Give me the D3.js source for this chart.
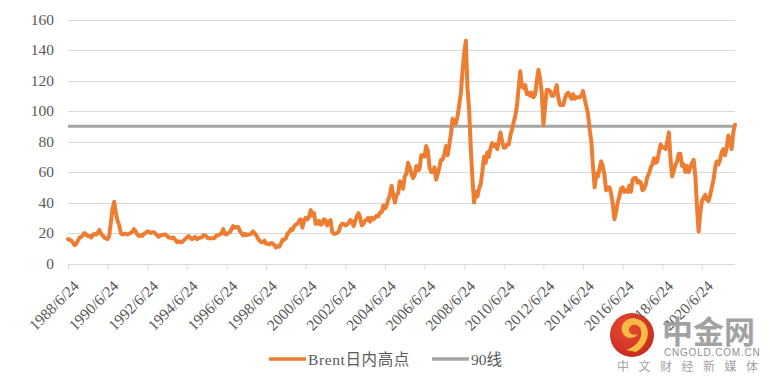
<!DOCTYPE html>
<html>
<head>
<meta charset="utf-8">
<script src="https://cdn.jsdelivr.net/npm/d3@7/dist/d3.min.js"></script>
<style>
  body { margin: 0; background: #fff; }
  svg { display: block; }
</style>
</head>
<body>
<div id="chart"></div>
<script>
// Brent daily high, one reading per month starting 1988/6/24
const brent1988to1999 = [
  16, 15.5, 15, 13.5, 12, 13, 15,
  17, 17.5, 18.5, 20, 19, 18, 18, 17, 18.5, 19.5, 19, 20,
  22, 19.5, 18.5, 17, 16.5, 16, 18, 27, 36, 40.5, 33, 28,
  25, 20, 19, 19.5, 19.5, 19, 19.5, 20, 21, 22.5, 21, 19,
  18, 18.5, 18, 19.5, 20, 21, 21, 20, 20.5, 20.5, 19.5, 18.5,
  17.5, 18.5, 18.5, 19, 19, 18, 17, 17, 16.5, 17, 15.5, 14,
  14.5, 14, 14, 15, 16, 17, 18, 17, 16, 16.5, 17.5, 16,
  16.5, 17, 17, 18.5, 18.5, 17.5, 16.5, 16.5, 16.5, 16.5, 17, 18.5,
  18.5, 19, 20, 22.5, 19.5, 19, 20, 20.5, 22.5, 24.5, 23.5, 24,
  24, 21.5, 20, 18.5, 19.5, 18.5, 19, 19, 19.5, 21, 20, 18.5,
  16.5, 15, 14, 14, 15, 13, 13, 12.5, 13.5, 13, 12, 10.5,
  11.5, 11, 13, 15.5, 15.5, 16.5, 19.5, 20.5, 22.5, 22, 24.5, 25.5
];
const brent2000to2009 = [
  26, 28, 29, 23.5, 28, 30, 29, 30.5, 35, 31.5, 33, 26,
  26, 28, 25.5, 26, 29, 28.5, 25, 27, 28.5, 21, 19.5, 19.5,
  20, 21, 24.5, 26, 26, 25, 25.5, 26.5, 28.5, 27.5, 24.5, 28,
  31, 33, 30, 25, 26, 28, 28.5, 30, 27.5, 30, 29, 30,
  31.5, 31, 33.5, 33.5, 38, 36, 38, 42, 45, 51, 45, 40,
  45, 46, 54, 53, 49, 57, 59, 66, 63, 59, 56, 58,
  64, 61, 62, 71, 71, 70, 77, 74, 63, 60, 60, 63,
  55, 59, 63, 68, 68, 72, 77, 71, 78, 85, 95, 92,
  92, 97, 104, 112, 126, 138, 146, 115, 100, 75, 55, 40,
  47, 44, 49, 52, 60, 70, 66, 73, 70, 76, 79, 77
];
const brent2010to2022 = [
  78, 75, 80, 86, 80, 76, 76, 78, 78, 84, 88, 93,
  97, 104, 115, 126, 116, 115, 117, 111, 112, 110, 112, 109,
  111, 120, 127, 121, 112, 91, 103, 114, 114, 113, 110, 110,
  113, 117, 109, 104, 104, 104, 108, 111, 112, 110, 108, 111,
  108, 109, 109, 109, 110, 113, 108, 103, 98, 88, 80, 64,
  50, 59, 57, 62, 67, 64, 58, 48, 49, 50, 46, 39,
  29, 34, 40, 44, 49, 50, 47, 48, 47, 51, 47, 55,
  56, 56, 53, 54, 53, 48, 49, 52, 57, 59, 63, 65,
  69, 66, 67, 73, 78, 76, 76, 75, 80, 86, 68, 57,
  61, 65, 67, 72, 72, 64, 65, 60, 64, 60, 63, 66,
  68, 57, 38, 21, 33, 41, 43, 45, 42, 41, 45, 50,
  55, 63, 67, 65, 68, 73, 75, 71, 76, 84, 80, 75,
  86, 91
];
const brentHigh = brent1988to1999.concat(brent2000to2009, brent2010to2022);
const startDate = new Date(1988, 5, 24);
const endDate = new Date(2022, 1, 24);
const levelValue = 90;
const yTicks = [0, 20, 40, 60, 80, 100, 120, 140, 160];
const xTickYears = [1988, 1990, 1992, 1994, 1996, 1998, 2000, 2002, 2004, 2006, 2008, 2010, 2012, 2014, 2016, 2018, 2020];
const seriesNames = ['Brent日内高点', '90线'];

const width = 770, height = 385;
const plot = { left: 68, right: 735, top: 19.5, bottom: 263.5 };
const serif = '"Liberation Serif", "Times New Roman", "Noto Sans CJK SC", serif';

const data = brentHigh.map((v, i) => ({ date: d3.timeMonth.offset(startDate, i), value: v }));

const svg = d3.select('#chart').append('svg')
  .attr('width', width)
  .attr('height', height);

const x = d3.scaleTime()
  .domain([startDate, endDate])
  .range([plot.left, plot.right]);

const y = d3.scaleLinear()
  .domain([0, 160])
  .range([plot.bottom, plot.top]);

// gridlines
svg.append('g')
  .selectAll('line')
  .data(yTicks.filter(t => t > 0))
  .join('line')
  .attr('x1', plot.left)
  .attr('x2', plot.right)
  .attr('y1', d => Math.round(y(d)) + 0.5)
  .attr('y2', d => Math.round(y(d)) + 0.5)
  .attr('stroke', '#d9d9d9')
  .attr('stroke-width', 1);

// y labels
svg.append('g')
  .selectAll('text')
  .data(yTicks)
  .join('text')
  .attr('x', 54)
  .attr('y', d => y(d) + 5)
  .attr('text-anchor', 'end')
  .style('font-family', serif)
  .style('font-size', '15.5px')
  .attr('fill', '#595959')
  .text(d => d);

// x axis
const tickDates = xTickYears.map(yr => new Date(yr, 5, 24));
const xAxis = svg.append('g')
  .attr('transform', `translate(0,${Math.round(plot.bottom) + 0.5})`)
  .call(d3.axisBottom(x).tickValues(tickDates).tickSize(5).tickFormat(d => d3.timeFormat('%Y/%-m/%-d')(d)));
xAxis.select('.domain')
  .attr('d', `M${plot.left},0H${plot.right}`)
  .attr('stroke', '#d9d9d9');
xAxis.selectAll('.tick line').attr('stroke', '#d9d9d9');
xAxis.selectAll('.tick text')
  .attr('fill', '#595959')
  .style('font-family', serif)
  .style('font-size', '15.5px')
  .attr('text-anchor', 'end')
  .attr('dy', '0.35em')
  .attr('transform', 'translate(2,13) rotate(-45)');

// 90 line
svg.append('line')
  .attr('x1', plot.left)
  .attr('x2', plot.right)
  .attr('y1', y(levelValue))
  .attr('y2', y(levelValue))
  .attr('stroke', '#a5a5a5')
  .attr('stroke-width', 3);

// brent line
svg.append('path')
  .datum(data)
  .attr('fill', 'none')
  .attr('stroke', '#ed7d31')
  .attr('stroke-width', 4)
  .attr('stroke-linejoin', 'round')
  .attr('stroke-linecap', 'round')
  .attr('d', d3.line().x(d => x(d.date)).y(d => y(d.value)));

// legend
const legendItems = [
  { name: seriesNames[0], color: '#ed7d31', x0: 269 },
  { name: seriesNames[1], color: '#a5a5a5', x0: 432 }
];
const legend = svg.append('g');
legendItems.forEach(item => {
  legend.append('line')
    .attr('x1', item.x0)
    .attr('x2', item.x0 + 37)
    .attr('y1', 359)
    .attr('y2', 359)
    .attr('stroke', item.color)
    .attr('stroke-width', 3.5);
  legend.append('text')
    .attr('x', item.x0 + 39)
    .attr('y', 364.5)
    .style('font-family', serif)
    .style('font-size', '15.5px')
    .style('letter-spacing', item.color === '#ed7d31' ? '0.6px' : '0px')
    .attr('fill', '#595959')
    .text(item.name);
});

// watermark
const wm = svg.append('g').attr('opacity', 0.95);
const grad = svg.append('defs').append('radialGradient')
  .attr('id', 'logoGrad')
  .attr('cx', '40%').attr('cy', '35%').attr('r', '70%');
grad.append('stop').attr('offset', '0%').attr('stop-color', '#e8442a');
grad.append('stop').attr('offset', '100%').attr('stop-color', '#c41f12');
wm.append('circle')
  .attr('cx', 632).attr('cy', 335).attr('r', 22)
  .attr('fill', 'url(#logoGrad)');
wm.append('path')
  .attr('d', 'M636,352 C650,344 652,326 640,320 C630,315 620,322 622,331 C624,339 634,340 638,334 C634,336 628,334 629,329 C630,324 637,323 640,328 C644,336 638,346 626,350 Z')
  .attr('fill', '#f6b93b');
wm.append('text')
  .attr('x', 662).attr('y', 343)
  .style('font-family', '"Noto Sans CJK SC", sans-serif')
  .style('font-size', '31px')
  .style('font-weight', 'bold')
  .attr('fill', '#9e9e9e')
  .text('中金网');
wm.append('text')
  .attr('x', 664).attr('y', 356)
  .style('font-family', 'Arial, "Liberation Sans", sans-serif')
  .style('font-size', '10px')
  .style('letter-spacing', '0.8px')
  .attr('fill', '#8a8a8a')
  .text('CNGOLD.COM.CN');
wm.append('text')
  .attr('x', 617).attr('y', 371)
  .style('font-family', '"Noto Sans CJK SC", sans-serif')
  .style('font-size', '12px')
  .style('letter-spacing', '9.5px')
  .attr('fill', '#9e9e9e')
  .text('中文财经新媒体');
</script>
</body>
</html>
